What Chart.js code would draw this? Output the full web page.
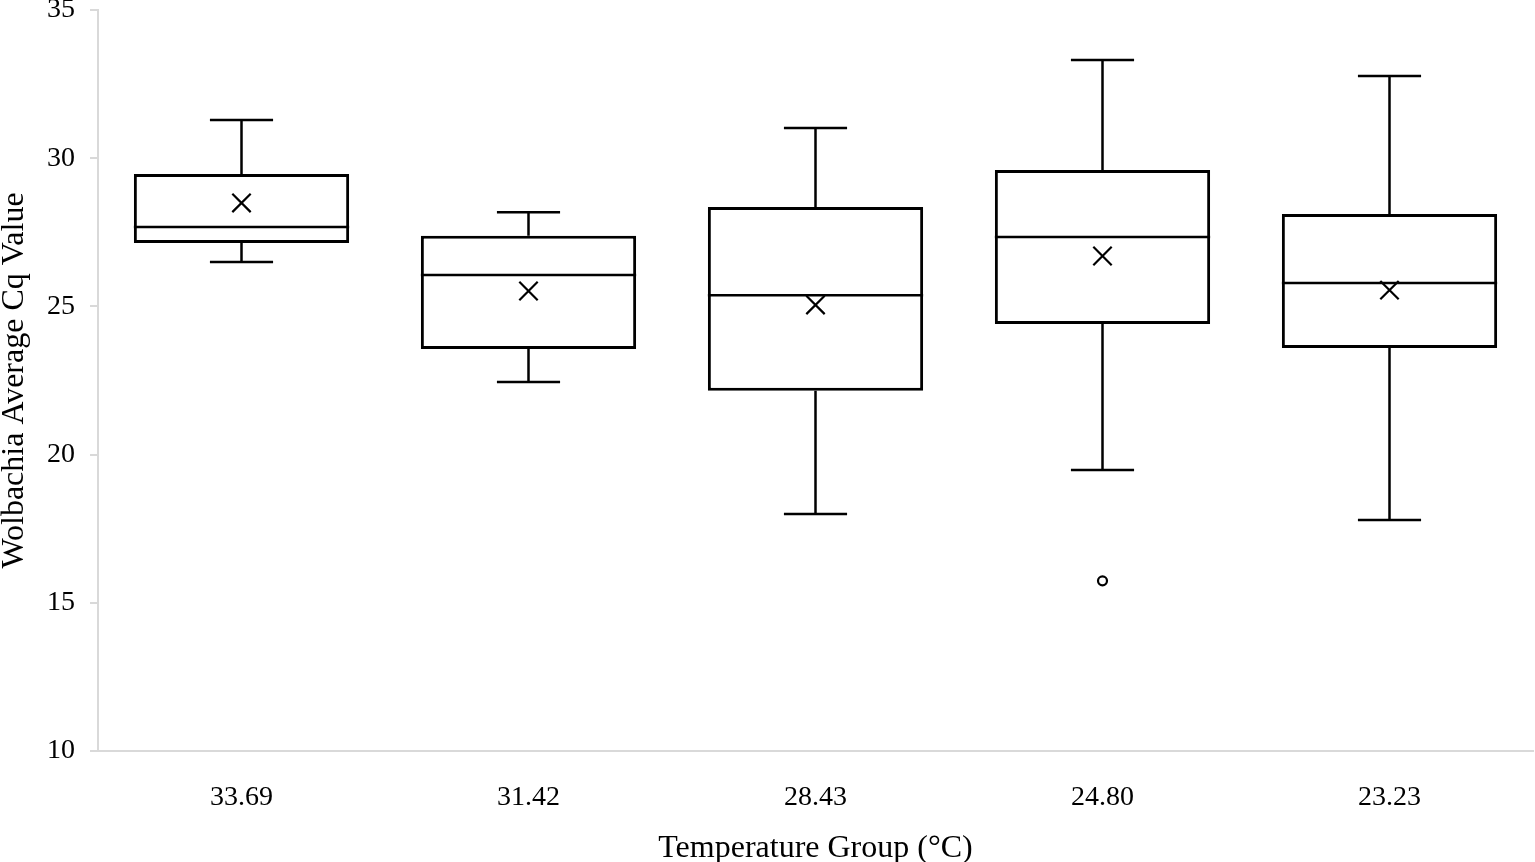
<!DOCTYPE html>
<html><head><meta charset="utf-8">
<script src="https://cdn.jsdelivr.net/npm/chart.js@4.4.1/dist/chart.umd.min.js"></script>
<style>html,body{margin:0;padding:0;background:#fff;overflow:hidden}#wrap{width:1535px;height:862px;position:relative}</style>
</head><body><div id="wrap"><canvas id="c"></canvas></div>
<script>
const categories = ['33.69','31.42','28.43','24.80','23.23'];
const whiskerMin = [26.50, 22.45, 18.00, 19.48, 17.79];
const q1         = [27.14, 23.56, 22.15, 24.41, 23.60];
const median     = [27.68, 26.06, 25.38, 27.34, 25.79];
const q3         = [29.47, 27.38, 28.35, 29.60, 28.12];
const whiskerMax = [31.29, 28.18, 31.02, 33.31, 32.77];
const means      = [28.49, 25.52, 25.05, 26.70, 25.55];
const outliers   = [null, null, null, 15.74, null];
const yTicks     = [10, 15, 20, 25, 30, 35];

const FONT = 'Liberation Serif';

const boxPlugin = {
  id: 'boxWhiskers',
  afterDatasetsDraw(chart) {
    const ctx = chart.ctx;
    const xs = chart.scales.x, ys = chart.scales.y;
    const meta = chart.getDatasetMeta(0);
    ctx.save();
    ctx.strokeStyle = '#000';
    ctx.lineWidth = 2.5;
    ctx.lineCap = 'butt';
    categories.forEach((c, i) => {
      const x = xs.getPixelForValue(i);
      const bar = meta.data[i];
      const half = bar.width / 2;
      const capHalf = xs.width / categories.length * 0.11;
      const yMin = ys.getPixelForValue(whiskerMin[i]);
      const yQ1 = ys.getPixelForValue(q1[i]);
      const yMed = ys.getPixelForValue(median[i]);
      const yQ3 = ys.getPixelForValue(q3[i]);
      const yMax = ys.getPixelForValue(whiskerMax[i]);
      ctx.beginPath();
      ctx.moveTo(x, yQ3); ctx.lineTo(x, yMax);
      ctx.moveTo(x - capHalf, yMax); ctx.lineTo(x + capHalf, yMax);
      ctx.moveTo(x, yQ1); ctx.lineTo(x, yMin);
      ctx.moveTo(x - capHalf, yMin); ctx.lineTo(x + capHalf, yMin);
      ctx.moveTo(x - half, yMed); ctx.lineTo(x + half, yMed);
      ctx.stroke();
    });
    ctx.restore();
  }
};

function noPad(scale) {
  scale.paddingTop = 0; scale.paddingBottom = 0;
  scale.paddingLeft = 0; scale.paddingRight = 0;
}

new Chart(document.getElementById('c'), {
  data: {
    labels: categories,
    datasets: [
      {
        type: 'bar',
        data: categories.map((c, i) => [q1[i], q3[i]]),
        backgroundColor: '#fff',
        borderColor: '#000',
        borderWidth: 3,
        borderSkipped: false,
        barPercentage: 0.75,
        categoryPercentage: 1.0,
        order: 3
      },
      {
        type: 'line',
        data: means,
        showLine: false,
        pointStyle: 'crossRot',
        pointRadius: 13,
        pointBorderWidth: 2.2,
        pointBorderColor: '#000',
        pointBackgroundColor: '#000',
        order: 1
      },
      {
        type: 'line',
        data: outliers,
        showLine: false,
        pointStyle: 'circle',
        pointRadius: 4.5,
        pointBorderWidth: 2.2,
        pointBorderColor: '#000',
        pointBackgroundColor: '#fff',
        order: 1
      }
    ]
  },
  options: {
    responsive: true,
    maintainAspectRatio: false,
    animation: false,
    layout: { autoPadding: false, padding: { top: 10, right: 2, bottom: 0, left: 0 } },
    plugins: { legend: { display: false }, tooltip: { enabled: false } },
    scales: {
      x: {
        type: 'category',
        offset: true,
        afterFit: noPad,
        grid: { display: false },
        border: { display: true, color: '#d9d9d9', width: 2 },
        ticks: { color: '#000', font: { family: FONT, size: 28 }, padding: 22 },
        title: { display: true, text: 'Temperature Group (°C)', color: '#000',
                 font: { family: FONT, size: 32 }, padding: { top: -7, bottom: -6 } }
      },
      y: {
        type: 'linear',
        min: 10, max: 35,
        afterFit: noPad,
        afterBuildTicks(scale) { scale.ticks = yTicks.map(v => ({ value: v })); },
        grid: { drawOnChartArea: false, drawTicks: true, tickLength: 8, color: '#d9d9d9', lineWidth: 2 },
        border: { display: true, color: '#d9d9d9', width: 2 },
        ticks: { color: '#000', font: { family: FONT, size: 28 }, padding: 15 },
        title: { display: true, text: 'Wolbachia Average Cq Value', color: '#000',
                 font: { family: FONT, size: 32, lineHeight: 1.2 }, padding: { top: -4.5, bottom: -1.9 } }
      }
    }
  },
  plugins: [boxPlugin]
});
</script>
</body></html>
